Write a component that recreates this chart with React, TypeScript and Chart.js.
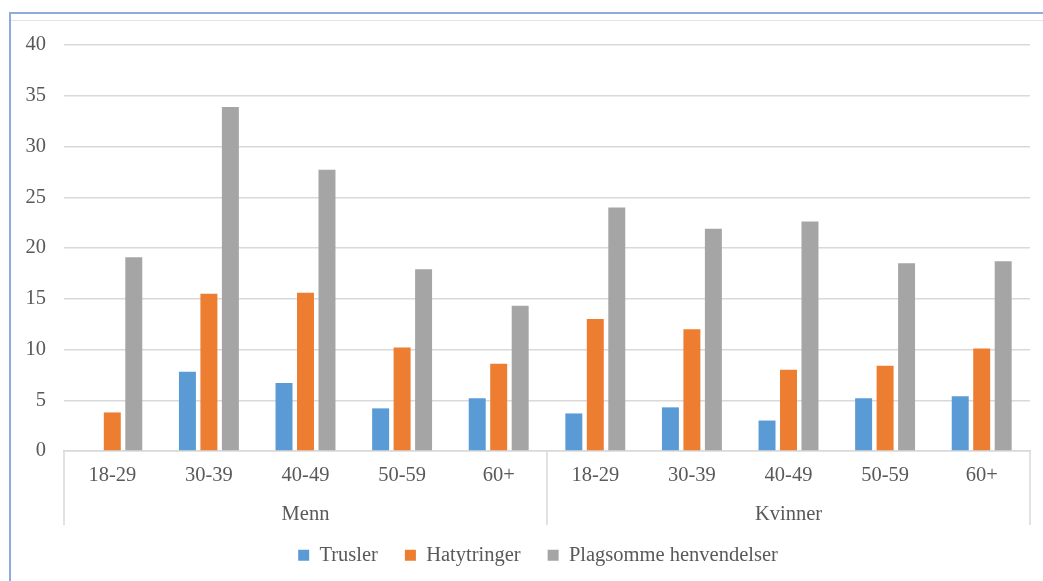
import React, { useEffect, useRef } from "react";
import { Chart, registerables } from "chart.js";

Chart.register(...registerables);

const ageGroups = ["18-29", "30-39", "40-49", "50-59", "60+"];
const genders = ["Menn", "Kvinner"];
const categories = [...ageGroups, ...ageGroups];

const seriesNames = ["Trusler", "Hatytringer", "Plagsomme henvendelser"];
const trusler = [null, 7.8, 6.7, 4.2, 5.2, 3.7, 4.3, 3.0, 5.2, 5.4];
const hatytringer = [3.8, 15.5, 15.6, 10.2, 8.6, 13.0, 12.0, 8.0, 8.4, 10.1];
const plagsomme = [19.1, 33.9, 27.7, 17.9, 14.3, 24.0, 21.9, 22.6, 18.5, 18.7];
const seriesColors = ["#5B9BD5", "#ED7D31", "#A5A5A5"];

const yMin = 0;
const yMax = 40;
const yStep = 5;

const FONT = "'Liberation Serif', 'Times New Roman', serif";
const FONT_SIZE = 20.5;
const TEXT = "#595959";
const GRID = "#d9d9d9";

const groupPlugin = {
  id: "genderGroups",
  afterDraw(chart: any) {
    const x = chart.scales.x;
    const area = chart.chartArea;
    const ctx = chart.ctx;
    const n = ageGroups.length;
    const bounds: number[] = [x.left];
    for (let g = 1; g < genders.length; g++) {
      bounds.push((x.getPixelForValue(g * n - 1) + x.getPixelForValue(g * n)) / 2);
    }
    bounds.push(x.right);
    ctx.save();
    ctx.strokeStyle = GRID;
    ctx.lineWidth = 1.5;
    bounds.forEach((b) => {
      ctx.beginPath();
      ctx.moveTo(b, area.bottom);
      ctx.lineTo(b, area.bottom + 74);
      ctx.stroke();
    });
    ctx.fillStyle = TEXT;
    ctx.font = `${FONT_SIZE}px ${FONT}`;
    ctx.textAlign = "center";
    ctx.textBaseline = "alphabetic";
    genders.forEach((g, i) => {
      const c = (x.getPixelForValue(i * n) + x.getPixelForValue(i * n + n - 1)) / 2;
      ctx.fillText(g, c, area.bottom + 69);
    });
    ctx.restore();
  },
};

export default function App() {
  const ref = useRef<HTMLCanvasElement | null>(null);

  useEffect(() => {
    if (!ref.current) return;
    const data = [trusler, hatytringer, plagsomme];
    const chart = new Chart(ref.current, {
      type: "bar",
      data: {
        labels: categories,
        datasets: seriesNames.map((name, i) => ({
          label: name,
          data: data[i] as any,
          backgroundColor: seriesColors[i],
          borderWidth: 0,
          categoryPercentage: 0.667,
          barPercentage: 0.79,
        })),
      },
      options: {
        animation: false,
        responsive: true,
        maintainAspectRatio: false,
        layout: { padding: { left: 46, right: 13, top: 45, bottom: 5.5 } },
        plugins: {
          legend: {
            position: "bottom",
            labels: {
              boxWidth: 11,
              boxHeight: 11,
              padding: 27,
              color: TEXT,
              font: { family: FONT, size: FONT_SIZE },
            },
          },
          tooltip: { enabled: false },
        },
        scales: {
          x: {
            grid: { display: false, drawTicks: false },
            border: { display: true, color: GRID, width: 1.5 },
            ticks: { color: TEXT, font: { family: FONT, size: FONT_SIZE }, padding: 12, maxRotation: 0, autoSkip: false },
            afterFit: (s: any) => {
              s.height = 67;
            },
          },
          y: {
            min: yMin,
            max: yMax,
            ticks: {
              stepSize: yStep,
              color: TEXT,
              font: { family: FONT, size: FONT_SIZE },
              mirror: true,
              crossAlign: "far",
              padding: -(64 - 46) - FONT_SIZE,
            },
            grid: { color: GRID, lineWidth: 1.5, drawTicks: false },
            border: { display: false },
            afterFit: (s: any) => {
              s.width = 18;
            },
          },
        },
      },
      plugins: [groupPlugin],
    });
    return () => chart.destroy();
  }, []);

  return (
    <div style={{ position: "fixed", left: 0, top: 0, width: 1043, height: 581, background: "#fff", overflow: "hidden" }}>
      <canvas ref={ref} />
      <div style={{ position: "absolute", left: 9, top: 12, width: 2, height: 600, background: "#8FAADC" }} />
      <div style={{ position: "absolute", left: 9, top: 12, width: 1100, height: 2, background: "#8FAADC" }} />
      <div style={{ position: "absolute", left: 11, top: 19.5, width: 1100, height: 1.5, background: "#e3e3e3" }} />
    </div>
  );
}
